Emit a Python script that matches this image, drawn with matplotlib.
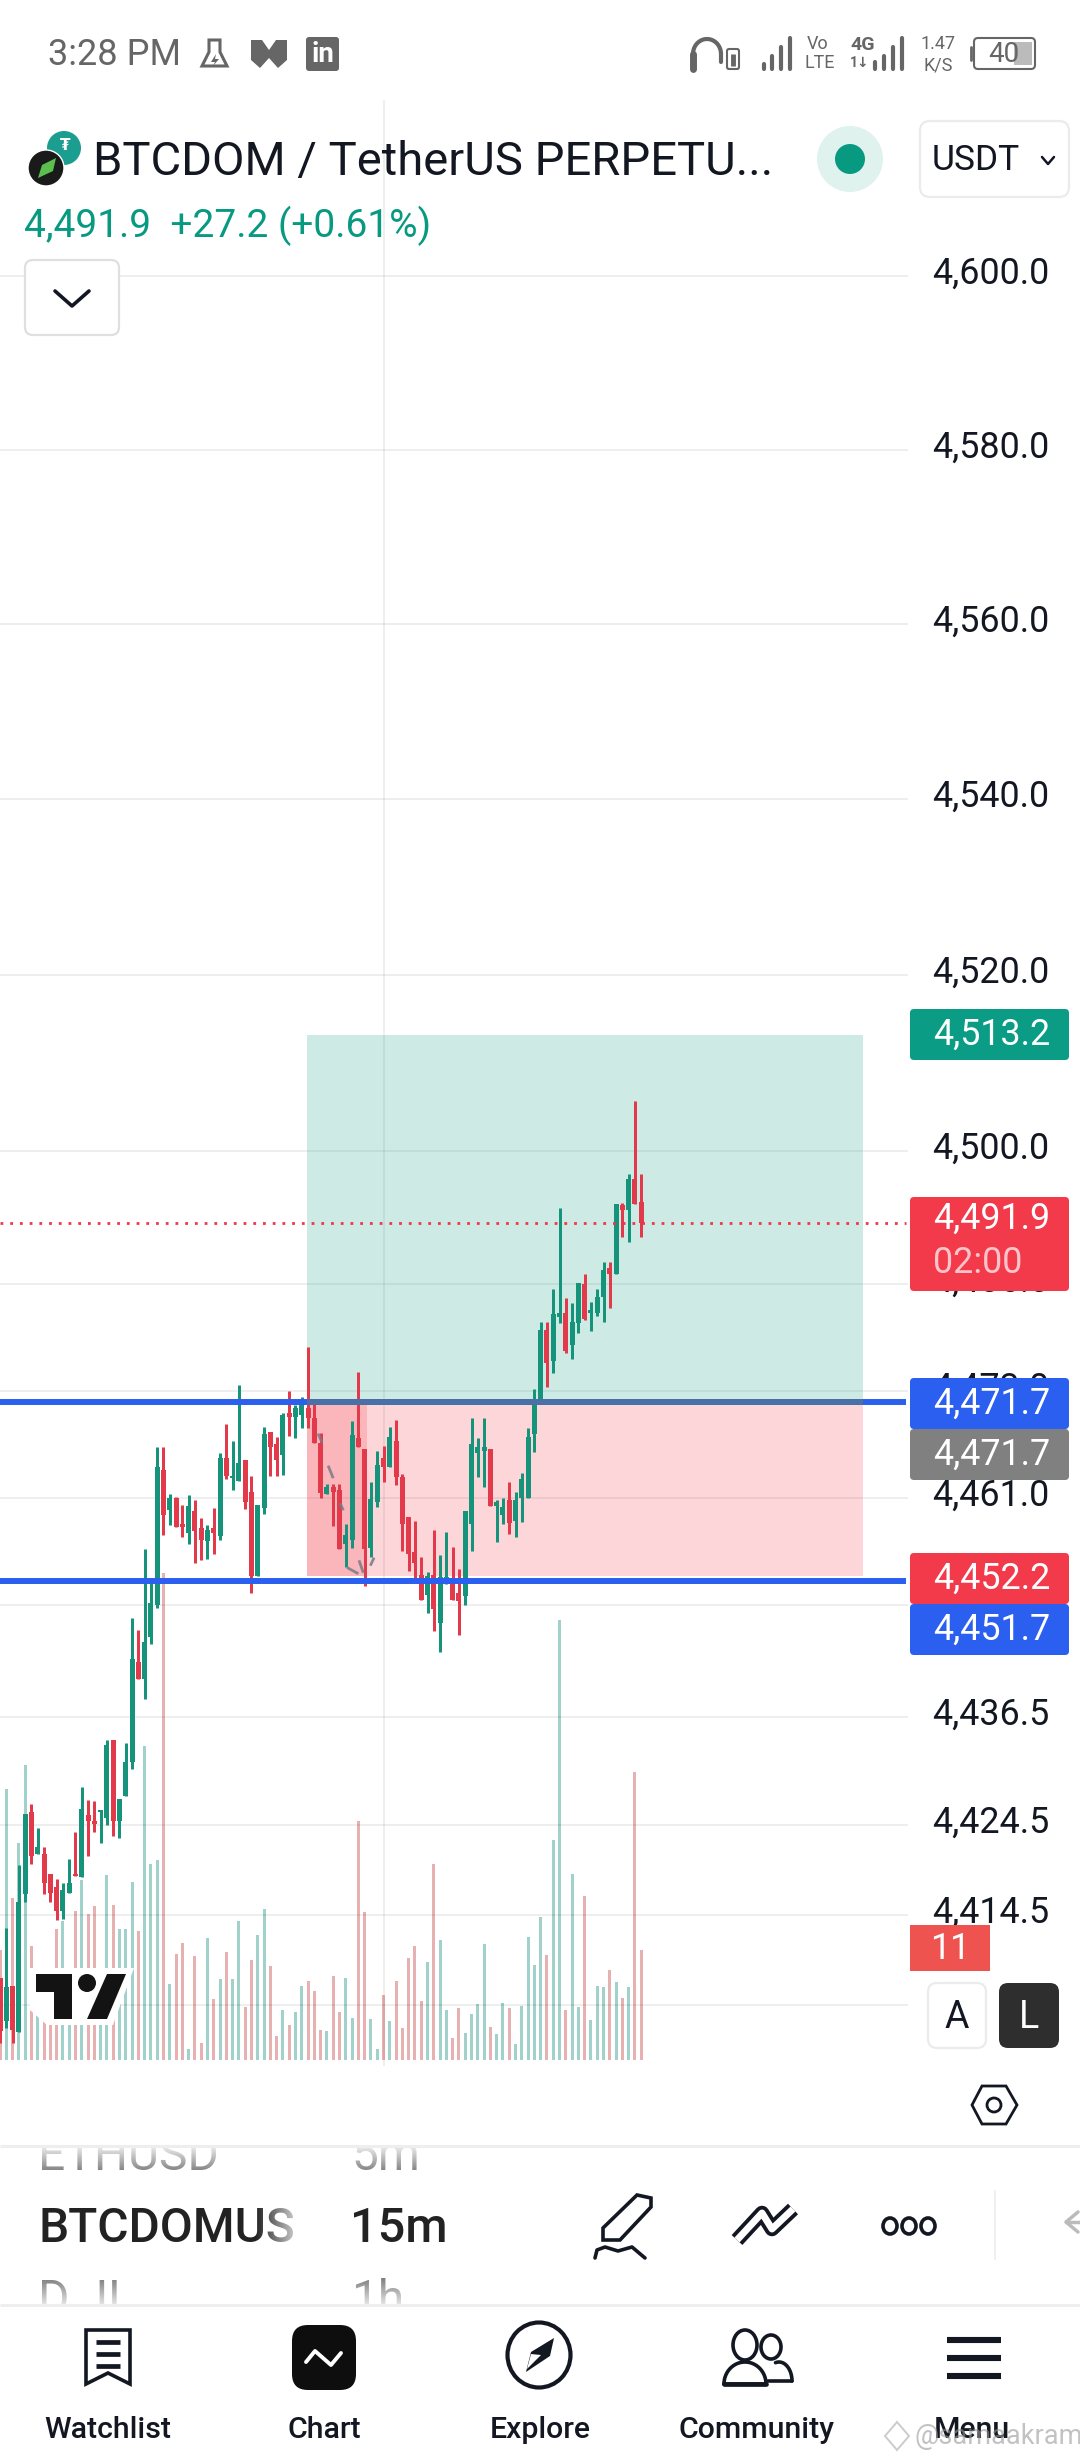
import numpy as np
import matplotlib
matplotlib.use('Agg')
import matplotlib.pyplot as plt
from matplotlib.patches import Circle, Ellipse, FancyBboxPatch, Polygon, Rectangle
from matplotlib.ticker import NullLocator
from matplotlib.transforms import ScaledTranslation

plt.rcParams['font.family'] = ['Roboto', 'DejaVu Sans']

# ohlc of the 15m candles
opens = [
  4407.5,4402.8,4406.6,4401.6,4416.8,4425.9,4421.3,4421.3,4419.1,4417.6,
  4415.0,4417.0,4419.1,4418.7,4425.6,4424.9,4425.9,4425.3,4434.0,4424.9,
  4427.7,4431.5,4442.6,4440.8,4445.4,4449.0,4464.1,4459.6,4461.0,4458.1,
  4457.1,4459.5,4457.6,4456.2,4457.6,4456.7,4465.5,4463.2,4462.9,4465.2,
  4461.6,4452.3,4459.9,4468.4,4467.0,4465.8,4470.5,4470.1,4470.3,4471.1,
  4469.9,4467.1,4461.4,4462.2,4461.9,4455.8,4456.3,4467.7,4466.5,4455.4,
  4460.5,4465.5,4464.4,4467.4,4463.3,4458.9,4454.9,4452.4,4450.1,4452.4,
  4447.0,4451.3,4452.0,4450.3,4450.0,4458.1,4466.0,4466.3,4466.5,4460.1,
  4459.1,4460.8,4458.4,4461.0,4461.0,4468.1,4471.9,4479.8,4476.3,4481.3,
  4481.8,4478.1,4480.6,4485.0,4481.8,4481.7,4483.5,4486.8,4486.1,4493.9,
  4493.4,4496.9,4494.3]
highs = [
  4407.5,4413.1,4406.6,4420.0,4425.7,4426.8,4424.2,4422.0,4419.1,4418.5,
  4418.1,4420.7,4423.7,4428.7,4427.3,4427.2,4426.2,4434.0,4434.0,4427.4,
  4433.6,4447.5,4446.2,4455.3,4451.9,4466.7,4466.7,4461.4,4461.1,4460.2,
  4461.3,4460.7,4458.7,4457.9,4459.9,4466.0,4469.3,4467.4,4473.7,4465.2,
  4463.4,4460.2,4468.9,4468.4,4467.8,4470.5,4473.0,4471.4,4472.3,4477.9,
  4472.1,4468.3,4462.6,4462.6,4462.5,4458.1,4469.6,4475.1,4466.5,4462.8,
  4466.2,4466.8,4468.9,4469.7,4463.7,4458.9,4458.4,4454.4,4452.7,4457.4,
  4454.6,4457.2,4455.5,4453.0,4459.5,4469.9,4467.7,4469.9,4466.5,4460.7,
  4461.0,4462.8,4461.6,4463.8,4468.8,4473.2,4480.7,4480.7,4484.5,4493.6,
  4483.4,4482.9,4485.1,4486.1,4483.0,4484.4,4487.5,4487.5,4494.0,4494.2,
  4497.4,4505.7,4497.4]
lows = [
  4400.3,4402.0,4400.3,4401.6,4415.9,4420.2,4421.3,4416.8,4416.0,4414.0,
  4414.1,4417.0,4418.8,4418.7,4421.0,4423.7,4422.5,4424.5,4423.3,4423.0,
  4427.7,4430.7,4440.8,4438.5,4444.6,4448.7,4456.8,4457.9,4457.7,4456.6,
  4455.8,4453.7,4454.0,4454.1,4454.7,4456.3,4463.1,4461.9,4462.9,4459.7,
  4450.4,4452.3,4459.2,4463.5,4463.5,4463.6,4467.9,4467.7,4468.8,4468.8,
  4467.2,4461.0,4461.4,4457.8,4455.3,4453.2,4455.4,4466.7,4451.1,4454.4,
  4460.0,4462.8,4464.4,4462.4,4455.1,4452.8,4452.0,4449.6,4448.1,4446.1,
  4443.8,4451.3,4449.6,4445.7,4449.0,4455.0,4463.3,4462.2,4460.1,4456.1,
  4458.1,4457.0,4456.6,4458.3,4461.0,4466.1,4471.9,4473.4,4475.0,4480.6,
  4477.3,4476.6,4479.5,4481.0,4479.7,4481.4,4480.7,4482.3,4486.1,4490.3,
  4489.7,4494.0,4490.3]
closes = [
  4401.7,4406.5,4401.8,4416.0,4425.7,4421.0,4422.0,4418.1,4416.9,4415.0,
  4417.3,4418.1,4418.8,4426.3,4424.9,4424.6,4426.2,4433.4,4424.9,4427.4,
  4431.5,4443.0,4440.8,4444.9,4449.2,4464.5,4459.1,4461.0,4457.7,4457.7,
  4460.1,4457.3,4456.3,4457.4,4457.1,4465.5,4463.4,4463.5,4464.9,4460.5,
  4452.3,4460.2,4468.2,4466.7,4465.2,4470.3,4470.1,4471.1,4471.9,4469.9,
  4467.2,4461.5,4462.2,4461.7,4455.3,4456.8,4468.0,4466.7,4455.3,4460.9,
  4464.7,4464.4,4467.8,4463.3,4458.1,4454.7,4453.7,4449.6,4452.3,4448.6,
  4452.1,4452.1,4449.6,4449.5,4459.5,4467.0,4466.7,4466.7,4460.1,4460.5,
  4460.0,4458.2,4460.7,4463.1,4467.8,4471.4,4479.8,4476.1,4481.6,4481.8,
  4477.5,4480.7,4485.1,4481.1,4482.1,4483.6,4486.6,4486.1,4494.0,4493.4,
  4496.9,4494.0,4491.9]
volumes = [
  110,271,162,217,295,114,62,45,40,131,
  139,40,149,180,146,154,40,185,155,131,
  131,178,129,314,196,200,487,76,106,117,
  11,104,17,122,61,81,108,81,139,53,
  100,125,151,94,24,50,35,48,74,79,
  69,30,29,84,48,82,42,239,148,41,
  11,65,39,79,32,102,114,59,98,196,
  120,50,22,52,27,46,56,116,33,26,
  57,52,16,54,123,95,143,105,220,440,
  50,186,53,164,40,74,73,90,78,62,
  73,288,110]

price_ticks = [4600.0,4580.0,4560.0,4540.0,4520.0,4500.0,4485.0,4473.0,4461.0,4449.0,4436.5,4424.5,4414.5,4404.5]
tick_labels = ['4,600.0','4,580.0','4,560.0','4,540.0','4,520.0','4,500.0','4,485.0','4,473.0','4,461.0','4,449.0','4,436.5','4,424.5','4,414.5','4,404.5']

last_price = 4491.9
upper_level = 4471.7
lower_level = 4451.7
target_price = 4513.2
stop_price = 4452.2

# long position tool, in bar numbers
tool_left = 48.83
tool_right = 137.2
tool_shade_right = 58.4
session_bar = 61.1

# grey dashes of the position path: (bar, price, bar, price)
path_dashes = [
  (50.6,4468.2,51.2,4467.2),
  (52.2,4464.6,53.0,4463.2),
  (54.1,4460.4,54.6,4459.6),
  (55.2,4453.2,57.0,4452.5),
  (57.1,4454.0,57.8,4452.6),
  (58.9,4453.4,59.5,4454.3),
]

GREEN = '#15937B'
RED = '#E23A4B'
VOL_GREEN = '#A0D1CA'
VOL_RED = '#E8B1B1'
BLUE = '#2B5FF0'
TV_GREEN = '#089981'
TV_RED = '#F23645'
INK = '#131722'
STATUS = '#666666'

W, H = 1080, 2460
PANE_LEFT, PANE_RIGHT, PANE_TOP, PANE_BOTTOM = 0, 908, 100, 2066
BAR_PX = 6.287
# price scale is logarithmic: 4600 sits at pixel 276, one e-fold is 39820 px
Y_4600 = 276
PX_PER_LOG = 39820


def px_to_price(y):
  return 4600.0 * np.exp(-(y - Y_4600) / PX_PER_LOG)


def pane_rect():
  return [PANE_LEFT / W, 1 - PANE_BOTTOM / H, (PANE_RIGHT - PANE_LEFT) / W, (PANE_BOTTOM - PANE_TOP) / H]


def draw_volume(fig):
  ax = fig.add_axes(pane_rect(), zorder=0)
  x = np.arange(len(volumes))
  up = np.array(closes) >= np.array(opens)
  ax.bar(x, volumes, width=3 / BAR_PX, color=[VOL_GREEN if u else VOL_RED for u in up])
  ax.set_xlim(0, (PANE_RIGHT - PANE_LEFT) / BAR_PX)
  # one volume unit is one pixel, base of the bars at y = 2060
  ax.set_ylim(-6, 1960)
  ax.axis('off')
  return ax


def draw_candles(fig):
  ax = fig.add_axes(pane_rect(), zorder=1)
  ax.patch.set_alpha(0)
  ax.set_yscale('log')
  ax.set_ylim(px_to_price(PANE_BOTTOM), px_to_price(PANE_TOP))
  ax.set_xlim(0, (PANE_RIGHT - PANE_LEFT) / BAR_PX)
  for s in ax.spines.values():
    s.set_visible(False)

  ax.yaxis.tick_right()
  ax.set_yticks(price_ticks, tick_labels)
  ax.yaxis.set_minor_locator(NullLocator())
  ax.tick_params(axis='y', which='both', length=0, pad=17.5, labelsize=25.8, labelcolor=INK)
  # labels sit a little above their grid lines
  lift = ScaledTranslation(0, 6 / 100, fig.dpi_scale_trans)
  for label in ax.get_yticklabels():
    label.set_transform(label.get_transform() + lift)
  ax.set_xticks([session_bar], ['8'])
  ax.tick_params(axis='x', length=0, pad=19, labelsize=25, labelcolor=INK)
  ax.get_xticklabels()[0].set_fontweight('bold')
  ax.grid(axis='y', color='black', alpha=0.065, lw=1.44)
  ax.set_axisbelow(True)
  ax.axvline(session_bar, color='black', alpha=0.07, lw=1.3, zorder=0.6)

  # long position tool
  ax.fill_between([tool_left, tool_right], upper_level, target_price, color=TV_GREEN, alpha=0.2, lw=0, zorder=1)
  ax.fill_between([tool_left, tool_right], stop_price, upper_level, color=TV_RED, alpha=0.2, lw=0, zorder=1)
  ax.fill_between([tool_left, tool_shade_right], stop_price, upper_level, color=TV_RED, alpha=0.2, lw=0, zorder=1)

  x = np.arange(len(opens))
  o, h, l, c = [np.array(v) for v in (opens, highs, lows, closes)]
  colors = [GREEN if up else RED for up in c >= o]
  ax.vlines(x, l, h, colors=colors, lw=2.16, zorder=3)
  ax.bar(x, np.abs(c - o), width=5 / BAR_PX, bottom=np.minimum(o, c), color=colors, lw=0, zorder=3)

  for x0, p0, x1, p1 in path_dashes:
    ax.plot([x0, x1], [p0, p1], color='#787B86', lw=2, alpha=0.85, zorder=4, solid_capstyle='butt')

  right = (PANE_RIGHT - 2) / BAR_PX
  ax.hlines([upper_level, lower_level], 0, right, colors=BLUE, lw=4.3, zorder=5)
  ax.hlines(upper_level, tool_left, tool_right, colors='#4A70A8', lw=4.3, zorder=5)
  ax.hlines(last_price, 0, right, colors=TV_RED, lw=2, linestyles=(0, (1, 2.5)), zorder=5)
  return ax


def ui_text(ui, x, y, s, size=25, color=INK, ha='left', va='center', weight='normal', **kw):
  return ui.text(x, y, s, fontsize=size, color=color, ha=ha, va=va, fontweight=weight, **kw)


def round_box(ui, x0, y0, x1, y1, r, fc, ec='none', lw=0, z=3):
  ui.add_patch(FancyBboxPatch((x0, y0), x1 - x0, y1 - y0, boxstyle='round,pad=0,rounding_size={}'.format(r),
                              fc=fc, ec=ec, lw=lw, zorder=z))


def badge(ui, y0, y1, text, color):
  ui.add_patch(Rectangle((910, y0 + 3), 159, y1 - y0 - 6, fc=color, lw=0, zorder=3))
  round_box(ui, 910, y0, 1069, y1, 4, color)
  ui_text(ui, 933, (y0 + y1) / 2 if y1 - y0 < 60 else y0 + 22, text, size=25.8, color='white', zorder=4)


def poly(ui, pts, fc='none', ec='none', lw=0, z=4):
  ui.add_patch(Polygon(pts, closed=True, fc=fc, ec=ec, lw=lw, zorder=z))


def line(ui, xs, ys, color=INK, lw=2.2, z=4, **kw):
  ui.plot(xs, ys, color=color, lw=lw, zorder=z, solid_capstyle=kw.pop('cap', 'round'), **kw)


def fade(ui, x0, x1, y0, y1, a0, a1, horizontal=False, z=6):
  n = 32
  grad = np.ones((n, 1, 4)) if not horizontal else np.ones((1, n, 4))
  grad[..., 3] = np.linspace(a0, a1, n).reshape(grad.shape[:2])
  ui.imshow(grad, extent=(x0, x1, y1, y0), aspect='auto', zorder=z, origin='upper')


def draw_status_bar(ui):
  ui_text(ui, 48, 55, '3:28 PM', size=26, color=STATUS)
  # flask
  poly(ui, [(209, 40), (220, 40), (220, 52), (227, 66), (202, 66), (209, 52)], fc='white', ec=STATUS, lw=2.2)
  poly(ui, [(216, 54), (211, 62), (215, 62), (213, 66), (219, 59), (215, 59)], fc=STATUS)
  # mail M
  poly(ui, [(251, 40), (262, 40), (269, 50), (276, 40), (287, 40), (287, 60), (278, 68), (269, 58), (260, 68), (251, 60)], fc=STATUS)
  # linkedin
  round_box(ui, 306, 37, 339, 71, 3, STATUS)
  ui_text(ui, 322.5, 55, 'in', size=20, color='white', ha='center', weight='bold', zorder=5)
  # headphones + bud battery
  t = np.linspace(np.pi, 2 * np.pi, 30)
  line(ui, 707 + 14 * np.cos(t), 54 + 15 * np.sin(t), color=STATUS, lw=3)
  line(ui, [693, 693], [54, 69], color=STATUS, lw=5)
  line(ui, [721, 721], [54, 62], color=STATUS, lw=3)
  round_box(ui, 727, 49, 739, 69, 2, 'white', ec=STATUS, lw=1.5)
  line(ui, [733, 733], [54, 66], color=STATUS, lw=3.5, cap='butt')
  # signal bars
  for bx, top in zip([764, 772, 781, 790], [64, 56, 47, 38]):
    line(ui, [bx, bx], [top, 69], color=STATUS, lw=3)
  ui_text(ui, 818, 44, 'Vo', size=13, color=STATUS, ha='center')
  ui_text(ui, 820, 63, 'LTE', size=13, color=STATUS, ha='center')
  ui_text(ui, 863, 45, '4G', size=14, color=STATUS, ha='center', weight='bold')
  ui_text(ui, 860, 63, '1\u2193', size=10, color=STATUS, ha='center', weight='bold')
  for bx, top in zip([875, 884, 893, 902], [62, 56, 47, 38]):
    line(ui, [bx, bx], [top, 69], color=STATUS, lw=3)
  ui_text(ui, 938, 44, '1.47', size=13, color=STATUS, ha='center')
  ui_text(ui, 938, 65, 'K/S', size=13, color=STATUS, ha='center')
  round_box(ui, 974, 38, 1035, 69, 4, 'white', ec=STATUS, lw=1.5)
  ui.add_patch(Rectangle((1014, 42), 18, 23, fc='#BBBBBB', lw=0, zorder=4))
  line(ui, [971, 971], [47, 60], color=STATUS, lw=2)
  ui_text(ui, 1004, 54, '40', size=20, color=STATUS, ha='center', zorder=5)


def draw_header(ui):
  # coin icons
  ui.add_patch(Circle((64, 148), 17, fc='#1B9E8F', lw=0, zorder=4))
  ui_text(ui, 65, 146, '\u20ae', size=11, color='white', ha='center', weight='bold', zorder=5, family=['DejaVu Sans'])
  ui.add_patch(Circle((46, 168), 18, fc='#1A1A1A', ec='white', lw=1, zorder=5))
  poly(ui, [(38, 178), (42, 165), (56, 158), (53, 171)], fc='#5BBF4E', z=6)

  ui_text(ui, 93, 161.5, 'BTCDOM / TetherUS PERPETU...', size=34, color=INK, zorder=4)
  ui_text(ui, 24, 226, '4,491.9  +27.2 (+0.61%)', size=28, color=TV_GREEN, zorder=4)

  ui.add_patch(Circle((850, 159), 33, fc='#DFF2EE', lw=0, zorder=4))
  ui.add_patch(Circle((850, 159), 15, fc=TV_GREEN, lw=0, zorder=5))

  round_box(ui, 920, 121, 1069, 197, 10, 'white', ec='#EBEBEB', lw=1.6)
  ui_text(ui, 932, 160.5, 'USDT', size=25.5, color=INK, zorder=4)
  line(ui, [1042, 1048, 1054], [157, 164, 157], lw=1.8)

  round_box(ui, 25, 260, 119, 335, 8, 'white', ec='#DFDFDF', lw=1.6)
  line(ui, [55, 72, 89], [291, 306, 291], lw=2.6)


def draw_badges(ui):
  badge(ui, 1009, 1060, '4,513.2', '#0A9C84')
  badge(ui, 1197, 1291, '4,491.9', '#F23A4B')
  ui_text(ui, 933, 1263, '02:00', size=25.8, color='#FFC4CA', zorder=4)
  badge(ui, 1378, 1429, '4,471.7', BLUE)
  badge(ui, 1429, 1480, '4,471.7', '#808080')
  badge(ui, 1553, 1604, '4,452.2', '#F23A4B')
  badge(ui, 1604, 1655, '4,451.7', BLUE)

  # white block behind the A / L buttons hides the last price label
  ui.add_patch(Rectangle((912, 1972), 160, 84, fc='white', lw=0, zorder=2.5))
  ui.add_patch(Rectangle((910, 1925), 80, 46, fc='#EF5350', lw=0, zorder=3))
  ui_text(ui, 950, 1949, '11', size=25.8, color='white', ha='center', zorder=4)
  round_box(ui, 928, 1983, 986, 2048, 9, 'white', ec='#EBEBEB', lw=1.6)
  ui_text(ui, 957, 2017, 'A', size=27, color=INK, ha='center', zorder=4)
  round_box(ui, 999, 1983, 1059, 2048, 9, '#2E2E2E')
  ui_text(ui, 1029, 2017, 'L', size=27, color='white', ha='center', zorder=4)

  # tradingview mark
  poly(ui, [(30, 1968), (134, 1968), (113, 2025), (47, 2025), (30, 2010)], fc='white', z=3)
  poly(ui, [(36, 1974), (72, 1974), (72, 2019), (54, 2019), (54, 1992), (36, 1992)], fc='#131313')
  ui.add_patch(Circle((87, 1983), 9, fc='#131313', lw=0, zorder=4))
  poly(ui, [(107, 1974), (126, 1974), (107, 2019), (87, 2019)], fc='#131313')


def draw_toolbar(ui):
  ui.add_patch(Rectangle((0, 2066), W, 394, fc='white', lw=0, zorder=1.5))
  # scrolling symbol wheel, rows cut off by the dividers
  ui_text(ui, 38, 2170, 'ETHUSD', size=34.5, color='#555555', va='baseline', zorder=2)
  ui_text(ui, 351, 2170, '5m', size=34.5, color='#555555', va='baseline', zorder=2)
  ui_text(ui, 38, 2242, 'BTCDOMUS', size=34.5, color='#222222', va='baseline', weight='medium', zorder=2)
  ui_text(ui, 350, 2242, '15m', size=35, color='#222222', va='baseline', weight='medium', zorder=2)
  ui_text(ui, 38, 2314, 'D JI', size=34.5, color='#555555', va='baseline', zorder=2)
  ui_text(ui, 351, 2314, '1h', size=34.5, color='#555555', va='baseline', zorder=2)
  fade(ui, 0, 460, 2148, 2172, 0.85, 0.25, z=2.2)
  fade(ui, 0, 460, 2278, 2305, 0.25, 0.85, z=2.2)
  fade(ui, 255, 300, 2200, 2250, 0.0, 0.85, horizontal=True, z=2.2)
  ui.add_patch(Rectangle((0, 2100), W, 45, fc='white', lw=0, zorder=2.3))
  ui.add_patch(Rectangle((0, 2305), W, 155, fc='white', lw=0, zorder=2.3))
  ui.hlines([2146, 2305], 0, W, colors='#EEEEEE', lw=2.2, zorder=2.4)

  # settings hexagon
  poly(ui, [(982, 2086), (1006, 2086), (1017, 2105), (1006, 2124), (982, 2124), (972, 2105)], ec=INK, lw=2)
  ui.add_patch(Circle((994, 2105), 7, fc='none', ec=INK, lw=2, zorder=4))

  # pencil
  poly(ui, [(603, 2228), (637, 2195), (651, 2198), (651, 2207), (620, 2240), (603, 2240)], ec=INK, lw=2.6)
  line(ui, [595, 597, 605, 618, 632, 645], [2258, 2250, 2247, 2251, 2247, 2258], lw=2.6)
  # trend tool
  zx, zy = [737, 762, 772, 793], [2240, 2213, 2229, 2209]
  line(ui, zx, zy, lw=10.5, cap='butt')
  line(ui, zx, zy, color='white', lw=5, z=5, cap='butt')
  # dots
  for cx in (890, 909, 928):
    ui.add_patch(Ellipse((cx, 2226), 14, 16, fc='none', ec=INK, lw=2.6, zorder=4))
  ui.vlines(995, 2190, 2260, colors='#EEEEEE', lw=1.2, zorder=4)
  line(ui, [1078, 1066, 1078], [2212, 2222, 2232], color='#BBBBBB', lw=2.5)
  line(ui, [1066, 1080], [2222, 2222], color='#BBBBBB', lw=2.5)


def draw_nav(ui):
  for cx, name in zip((108, 324, 540, 756, 972), ('Watchlist', 'Chart', 'Explore', 'Community', 'Menu')):
    ui_text(ui, cx, 2430, name, size=21.8, color=INK, ha='center', weight='medium', zorder=4)

  poly(ui, [(86, 2330), (130, 2330), (130, 2384), (108, 2373), (86, 2384)], ec=INK, lw=2.6)
  for ly in (2342, 2354, 2366):
    line(ui, [96, 120], [ly, ly], lw=3.4, cap='butt')

  round_box(ui, 292, 2325, 356, 2390, 16, '#0E0E0E')
  line(ui, [306, 315, 331, 341], [2362, 2351, 2365, 2353], color='white', lw=2.8, z=5)

  ui.add_patch(Ellipse((539, 2355), 63, 65, fc='none', ec=INK, lw=3, zorder=4))
  poly(ui, [(554, 2338), (550, 2356), (526, 2372), (531, 2352)], fc=INK)
  poly(ui, [(541, 2355), (531, 2354), (527, 2369)], fc='white', z=5)

  ui.add_patch(Ellipse((745, 2345), 24, 30, fc='none', ec=INK, lw=2.6, zorder=4))
  ui.add_patch(Ellipse((771, 2347), 20, 24, fc='none', ec=INK, lw=2.6, zorder=4))
  t = np.linspace(np.pi, 2 * np.pi, 30)
  line(ui, np.r_[745 + 21 * np.cos(t), 724], np.r_[2384 + 22 * np.sin(t), 2384], lw=2.6)
  line(ui, [724, 766], [2384, 2384], lw=3.4)
  line(ui, np.r_[779 + 13 * np.cos(t[12:])], np.r_[2381 + 19 * np.sin(t[12:])], lw=2.6)
  line(ui, [768, 792], [2381, 2381], lw=2.6)

  for ly in (2340, 2358, 2376):
    line(ui, [947, 1001], [ly, ly], lw=4.4, cap='butt')

  # photo watermark
  poly(ui, [(897, 2422), (909, 2436), (897, 2450), (885, 2436)], ec='#CCCCCC', lw=1.4, z=6)
  ui_text(ui, 915, 2437, '@samaakram', size=19.5, color='#9A9A9A', alpha=0.6, zorder=6)


def draw_chart():
  fig = plt.figure(figsize=(W / 100, H / 100), dpi=100, facecolor='white')
  draw_volume(fig)
  draw_candles(fig)

  ui = fig.add_axes([0, 0, 1, 1], zorder=2)
  ui.patch.set_alpha(0)
  draw_status_bar(ui)
  draw_header(ui)
  draw_badges(ui)
  draw_toolbar(ui)
  draw_nav(ui)
  ui.set_xlim(0, W)
  ui.set_ylim(H, 0)
  ui.axis('off')

  fig.savefig('out.png', dpi=100)


if __name__ == "__main__":
  draw_chart()
